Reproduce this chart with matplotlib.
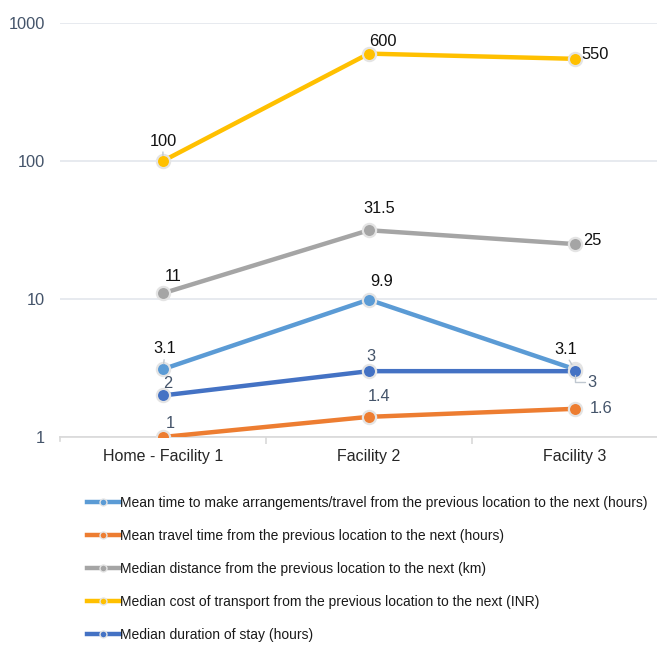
import matplotlib
matplotlib.use("Agg")
import matplotlib.pyplot as plt
from matplotlib.lines import Line2D

plt.rcParams['font.family'] = ['Liberation Sans', 'DejaVu Sans']

categories = ["Home - Facility 1", "Facility 2", "Facility 3"]
series_names = [
    "Mean time to make arrangements/travel from the previous location to the next (hours)",
    "Mean travel time from the previous location to the next (hours)",
    "Median distance from the previous location to the next (km)",
    "Median cost of transport from the previous location to the next (INR)",
    "Median duration of stay (hours)",
]
mean_arrange = [3.1, 9.9, 3.1]
mean_travel = [1, 1.4, 1.6]
median_dist = [11, 31.5, 25]
median_cost = [100, 600, 550]
median_stay = [2, 3, 3]
series_values = [mean_arrange, mean_travel, median_dist, median_cost, median_stay]
colors = ["#5B9BD5", "#ED7D31", "#A5A5A5", "#FFC000", "#4472C4"]
yticks = [1, 10, 100, 1000]
ytick_labels = ["1", "10", "100", "1000"]

W, H = 657, 645
fig = plt.figure(figsize=(W / 100, H / 100), dpi=100)
ax = fig.add_axes([60 / W, (H - 437) / H, (W - 60) / W, (437 - 23) / H])

x = list(range(len(categories)))
for i, (name, vals, c) in enumerate(zip(series_names, series_values, colors)):
    ax.plot(x, vals, color=c, lw=3.2, marker='o', ms=9.5, mfc=c, mec='#E4E4E4',
            mew=1.6, zorder=3 + i, solid_capstyle='round')

ax.set_yscale('log')
ax.set_ylim(1, 1000)
ax.set_xlim(-0.5, 2.4)
ax.set_yticks(yticks)
ax.set_yticklabels(ytick_labels)
ax.minorticks_off()
ax.yaxis.grid(True, color='#E3E6EC', lw=1.2)
ax.set_axisbelow(True)
for s in ['left', 'right', 'top']:
    ax.spines[s].set_visible(False)
ax.spines['bottom'].set_color('#D9D9D9')
ax.spines['bottom'].set_linewidth(1.2)
ax.tick_params(axis='y', length=0, pad=11, labelsize=11.8, labelcolor='#44546A')
ax.set_xticks(x)
ax.set_xticklabels(categories)
ax.tick_params(axis='x', length=0, pad=9, labelsize=11.5, labelcolor='#262626')
ax.set_xticks([0.5, 1.5], minor=True)
ax.tick_params(axis='x', which='minor', length=5, color='#D9D9D9', width=1.2)
ax.plot([-0.5, -0.5], [1, 0.93], color='#D9D9D9', lw=1.2, clip_on=False)

dark = '#111111'
slate = '#44546A'
lead = '#BFC7D0'
# (series index, point index, dx, dy pixels, color, ha, leader)
labels = [
    (3, 0, 0, 20, dark, 'center', True),
    (3, 1, 14, 12, dark, 'center', False),
    (3, 2, 20, 4, dark, 'center', False),
    (2, 0, 10, 17, dark, 'center', False),
    (2, 1, 10, 22, dark, 'center', False),
    (2, 2, 18, 4, dark, 'center', False),
    (0, 0, 2, 21, dark, 'center', True),
    (0, 1, 13, 18, dark, 'center', False),
    (0, 2, -9, 20, dark, 'center', True),
    (4, 2, 17, -11, slate, 'center', 'elbow'),
    (4, 0, 5, 12, slate, 'center', False),
    (4, 1, 2, 15, slate, 'center', False),
    (1, 0, 7, 14, slate, 'center', False),
    (1, 1, 10, 20, slate, 'center', False),
    (1, 2, 15, 0, slate, 'left', False),
]
for si, pi, dx, dy, col, ha, leader in labels:
    v = series_values[si][pi]
    txt = f"{v:g}"
    ax.annotate(txt, (pi, v), xytext=(dx, dy), textcoords='offset pixels',
                ha=ha, va='center', fontsize=11.8, color=col, zorder=20)
    if leader is True:
        ax.annotate('', (pi, v), xytext=(dx * 0.6, dy * 0.45), textcoords='offset pixels',
                    arrowprops=dict(arrowstyle='-', color=lead, lw=1, shrinkA=0, shrinkB=4),
                    zorder=19)
    elif leader == 'elbow':
        ax.annotate('', (pi, v), xytext=(dx - 7, dy), textcoords='offset pixels',
                    arrowprops=dict(arrowstyle='-', color=lead, lw=1, shrinkA=0, shrinkB=3,
                                    connectionstyle='angle,angleA=0,angleB=90,rad=0'),
                    zorder=19)

handles = [Line2D([0], [0], color=c, lw=3.2, marker='o', ms=5, mfc=c, mec='#E4E4E4', mew=1)
           for c in colors]
fig.legend(handles, series_names, loc='upper left', bbox_to_anchor=(81 / W, 1 - 490 / H),
           frameon=False, fontsize=10, handlelength=2.4, handletextpad=0.0,
           labelspacing=1.38, labelcolor='#1a1a1a', borderaxespad=0)

fig.savefig('out.png', dpi=100)
